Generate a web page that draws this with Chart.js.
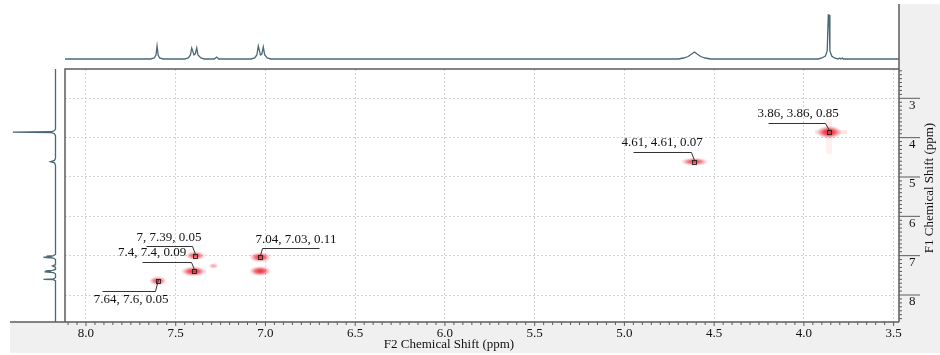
<!DOCTYPE html>
<html>
<head>
<meta charset="utf-8">
<script src="https://cdn.jsdelivr.net/npm/chart.js@4.4.0/dist/chart.umd.min.js"></script>
<style>
  html, body { margin: 0; padding: 0; background: #fff; }
  #wrap { position: relative; width: 940px; height: 355px; overflow: hidden; }
  #wrap canvas { position: absolute; }
</style>
</head>
<body>
<div id="wrap">
  <canvas id="chart-main" width="940" height="355" style="left:0;top:0"></canvas>
  <canvas id="chart-top" width="834" height="64" style="left:65px;top:0"></canvas>
  <canvas id="chart-side" width="60" height="253" style="left:0;top:69px"></canvas>
</div>
<script>
// axis ticks (ppm)
var f2Ticks = [8.0, 7.5, 7.0, 6.5, 6.0, 5.5, 5.0, 4.5, 4.0, 3.5];
var f1Ticks = [3, 4, 5, 6, 7, 8];

// cross peaks: F2 (x), F1 (y), intensity
var peakF2 = [3.86, 4.61, 7.03, 7.39, 7.4, 7.6, 7.03, 7.29];
var peakF1 = [3.86, 4.61, 7.04, 7, 7.4, 7.64, 7.39, 7.26];
var peakZ  = [0.85, 0.07, 0.11, 0.05, 0.09, 0.05, 0.09, 0.02];
var labelled = [true, true, true, true, true, true, false, false];

// 1D projection along F2 (top trace)
var topShift = [8.117, 7.64, 7.62, 7.61, 7.604, 7.598, 7.59, 7.57,
  7.45, 7.43, 7.418, 7.411, 7.398, 7.391, 7.383, 7.376, 7.36, 7.34,
  7.285, 7.272, 7.26,
  7.08, 7.06, 7.048, 7.04, 7.028, 7.02, 7.012, 7.004, 6.99, 6.97,
  4.7, 4.67, 4.645, 4.625, 4.609, 4.595, 4.575, 4.55, 4.52,
  3.92, 3.9, 3.88, 3.87, 3.864, 3.86, 3.855, 3.845, 3.83, 3.81, 3.8, 3.795, 3.785, 3.78,
  3.47];
var topInt = [0, 0, 1, 4, 13, 4, 1, 0,
  0, 1, 4, 11, 4, 5, 11, 4, 1, 0,
  0, 2, 0,
  0, 1, 4, 13, 4, 5, 12, 4, 1, 0,
  0, 1, 2.5, 5, 7, 5, 2.5, 1, 0,
  0, 1, 3, 8, 44, 44, 8, 3, 1, 0, 1, 0, 1, 0,
  0];

// 1D projection along F1 (left trace)
var sideShift = [2.255, 3.78, 3.82, 3.85, 3.857, 3.862, 3.87, 3.9, 3.95,
  4.52, 4.58, 4.61, 4.64, 4.7,
  6.97, 7.0, 7.012, 7.025, 7.04, 7.06, 7.1,
  7.23, 7.26, 7.29,
  7.35, 7.375, 7.385, 7.4, 7.41, 7.43, 7.46,
  7.56, 7.59, 7.6, 7.61, 7.64,
  8.686];
var sideInt = [0, 0, 1, 4, 42, 42, 4, 1, 0,
  0, 1, 5, 1, 0,
  0, 2, 9, 3, 12, 2, 0,
  0, 3, 0,
  0, 3, 10, 4, 11, 2, 0,
  0, 2, 12, 2, 0,
  0];

var F2_MIN = 3.47, F2_MAX = 8.117;
var F1_MIN = 2.255, F1_MAX = 8.686;
var serif = '"Liberation Serif", "DejaVu Serif", serif';
var traceColor = '#4a6875';
var frameColor = '#5c5c5c';

Chart.defaults.font.family = serif;
Chart.defaults.font.size = 13;
Chart.defaults.color = '#111';

// blob look per peak (w, h, alpha)
var blobStyle = [
  [26, 13, 1], [28, 8, 0.85], [22, 10, 0.9], [20, 9, 0.8],
  [26, 10, 0.95], [18, 9, 0.8], [22, 10, 0.9], [10, 6, 0.4]
];

function makeBlob(w, h, a, streaks) {
  var W = streaks ? 40 : w, H = streaks ? 46 : h;
  var cv = document.createElement('canvas');
  cv.width = W; cv.height = H;
  var c = cv.getContext('2d');
  c.translate(W / 2, H / 2);
  if (streaks) {
    c.fillStyle = 'rgba(240,110,120,0.10)';
    c.fillRect(-3, -13, 6, 35);
    c.fillStyle = 'rgba(240,100,110,0.18)';
    c.fillRect(-14, -2, 32, 4);
  }
  c.save();
  c.scale(w / 2, h / 2);
  var g = c.createRadialGradient(0, 0, 0, 0, 0, 1);
  g.addColorStop(0, 'rgba(228,20,35,' + a + ')');
  g.addColorStop(0.45, 'rgba(236,50,65,' + (a * 0.8) + ')');
  g.addColorStop(1, 'rgba(245,120,130,0)');
  c.fillStyle = g;
  c.beginPath();
  c.arc(0, 0, 1, 0, Math.PI * 2);
  c.fill();
  c.restore();
  return cv;
}
var blobImgs = blobStyle.map(function(s, i) { return makeBlob(s[0], s[1], s[2], i === 0); });

// leader line layout for labelled peaks (px offsets from the marker)
var labelLayout = [
  {ex: -4, ey: -9, lx: -61, tx: -31, ty: -18},
  {ex: -3, ey: -10, lx: -61, tx: -32, ty: -19},
  {ex: 2, ey: -9, lx: 59, tx: 36, ty: -17},
  {ex: -3, ey: -10, lx: -49, tx: -26, ty: -18},
  {ex: -3, ey: -9, lx: -52, tx: -42, ty: -18},
  {ex: -3, ey: 10, lx: -56, tx: -27, ty: 19}
];

var nmrDecor = {
  id: 'nmrDecor',
  beforeDraw: function(chart) {
    var c = chart.ctx, a = chart.chartArea;
    c.save();
    c.fillStyle = '#f0f0f0';
    c.fillRect(a.right, 4, 940 - a.right, 349);
    c.fillRect(10, a.bottom, a.right - 10, 31);
    c.fillStyle = '#fff';
    c.fillRect(a.left, a.top, a.right - a.left, a.bottom - a.top);
    c.restore();
  },
  afterDatasetsDraw: function(chart) {
    var c = chart.ctx;
    var xs = chart.scales.x, ys = chart.scales.y;
    c.save();
    c.font = '13px ' + serif;
    c.textAlign = 'center';
    c.textBaseline = 'middle';
    var k = 0;
    for (var i = 0; i < peakF2.length; i++) {
      if (!labelled[i]) continue;
      var L = labelLayout[k++];
      var px = Math.round(xs.getPixelForValue(peakF2[i]));
      var py = Math.round(ys.getPixelForValue(peakF1[i]));
      c.strokeStyle = '#333';
      c.lineWidth = 1;
      c.beginPath();
      c.moveTo(px + 0.5, py - 1.5);
      c.lineTo(px + L.ex + 0.5, py + L.ey + 0.5);
      c.lineTo(px + L.lx + 0.5, py + L.ey + 0.5);
      c.stroke();
      c.strokeStyle = '#222';
      c.lineWidth = 0.9;
      c.strokeRect(px - 1.5, py - 1.5, 4, 4);
      c.fillStyle = '#111';
      c.fillText(peakF1[i] + ', ' + peakF2[i] + ', ' + peakZ[i], px + L.tx, py + L.ty);
    }
    c.restore();
  },
  afterDraw: function(chart) {
    var c = chart.ctx, a = chart.chartArea;
    var xs = chart.scales.x, ys = chart.scales.y;
    c.save();
    c.strokeStyle = frameColor;
    c.lineWidth = 1.5;
    c.beginPath();
    c.moveTo(a.left, a.bottom); c.lineTo(a.left, a.top); c.lineTo(a.right, a.top);
    c.moveTo(10, a.bottom); c.lineTo(a.right, a.bottom);
    c.moveTo(a.right, 4); c.lineTo(a.right, a.bottom);
    c.stroke();
    c.lineWidth = 1;
    c.beginPath();
    for (var i = 70; i <= 162; i++) {
      var x = xs.getPixelForValue(i * 0.05);
      c.moveTo(x, a.bottom); c.lineTo(x, a.bottom + (i % 10 === 0 ? 4 : 3));
    }
    for (var j = 23; j <= 86; j++) {
      var y = ys.getPixelForValue(j / 10);
      c.moveTo(a.right, y); c.lineTo(a.right + (j % 10 === 0 ? 21 : 3), y);
    }
    c.stroke();
    c.fillStyle = '#111';
    c.font = '13px ' + serif;
    c.textAlign = 'center';
    c.textBaseline = 'middle';
    c.fillText('F2 Chemical Shift (ppm)', 449, 345);
    c.translate(930, 188);
    c.rotate(-Math.PI / 2);
    c.fillText('F1 Chemical Shift (ppm)', 0, 0);
    c.restore();
  }
};

new Chart(document.getElementById('chart-main'), {
  type: 'scatter',
  data: {
    datasets: [{
      data: peakF2.map(function(x, i) { return {x: x, y: peakF1[i]}; }),
      pointStyle: function(ctx) { return blobImgs[ctx.dataIndex]; },
      pointRadius: 10
    }]
  },
  options: {
    responsive: false,
    animation: false,
    events: [],
    layout: { padding: { left: 65, top: 69, right: 0, bottom: 0 } },
    plugins: { legend: { display: false }, tooltip: { enabled: false } },
    scales: {
      x: {
        type: 'linear', position: 'bottom', reverse: true,
        min: F2_MIN, max: F2_MAX,
        afterBuildTicks: function(s) { s.ticks = f2Ticks.map(function(v) { return {value: v}; }); },
        afterFit: function(s) { s.height = 33; },
        ticks: { padding: 4, maxRotation: 0, autoSkip: false, callback: function(v) { return v.toFixed(1); } },
        grid: { color: '#d2d2d2', drawTicks: false },
        border: { display: false, dash: [2, 2] }
      },
      y: {
        type: 'linear', position: 'right', reverse: true,
        min: F1_MIN, max: F1_MAX,
        afterBuildTicks: function(s) { s.ticks = f1Ticks.map(function(v) { return {value: v}; }); },
        afterFit: function(s) { s.width = 41; },
        ticks: { padding: 10, labelOffset: 7, autoSkip: false, callback: function(v) { return String(v); } },
        grid: { color: '#d2d2d2', drawTicks: false },
        border: { display: false, dash: [2, 2] }
      }
    }
  },
  plugins: [nmrDecor]
});

new Chart(document.getElementById('chart-top'), {
  type: 'scatter',
  data: {
    datasets: [{
      data: topShift.map(function(x, i) { return {x: x, y: topInt[i]}; }),
      showLine: true, pointRadius: 0, borderColor: traceColor, borderWidth: 1.3, clip: false
    }]
  },
  options: {
    responsive: false, animation: false, events: [],
    layout: { padding: { left: 0, right: 0, top: 0, bottom: 5 } },
    plugins: { legend: { display: false }, tooltip: { enabled: false } },
    scales: {
      x: { type: 'linear', display: false, reverse: true, min: F2_MIN, max: F2_MAX },
      y: { type: 'linear', display: false, min: 0, max: 59 }
    }
  }
});

new Chart(document.getElementById('chart-side'), {
  type: 'scatter',
  data: {
    datasets: [{
      data: sideShift.map(function(y, i) { return {x: sideInt[i], y: y}; }),
      showLine: true, pointRadius: 0, borderColor: traceColor, borderWidth: 1.3, clip: false
    }]
  },
  options: {
    responsive: false, animation: false, events: [],
    layout: { padding: { left: 0, right: 4.5, top: 0, bottom: 0 } },
    plugins: { legend: { display: false }, tooltip: { enabled: false } },
    scales: {
      x: { type: 'linear', display: false, reverse: true, min: 0, max: 55.5 },
      y: { type: 'linear', display: false, reverse: true, min: F1_MIN, max: F1_MAX }
    }
  }
});
</script>
</body>
</html>
